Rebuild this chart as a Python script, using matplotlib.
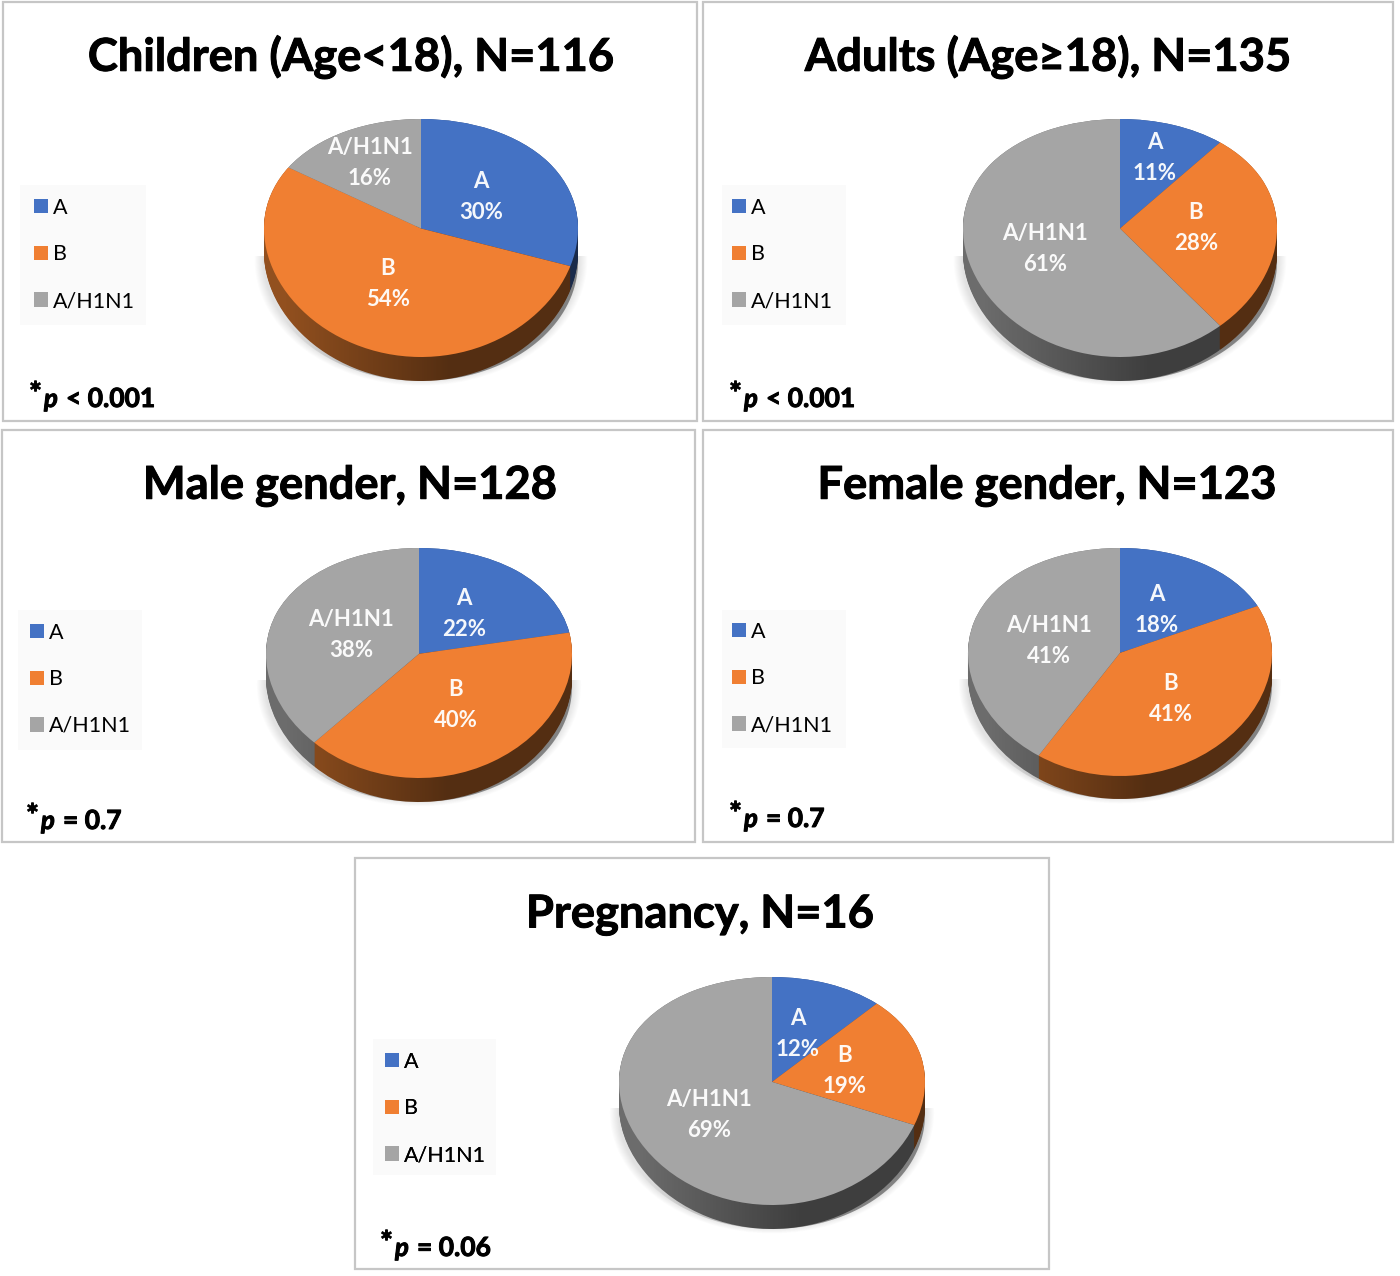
import numpy as np
import matplotlib
matplotlib.use("Agg")
import matplotlib.pyplot as plt
import matplotlib.patheffects as pe
from matplotlib.patches import Rectangle, Ellipse
from matplotlib.path import Path
from matplotlib.transforms import Transform, Affine2D

WIDTH = 1400
HEIGHT = 1276

# chart values
titles = ["Children (Age<18), N=116", "Adults (Age\u226518), N=135", "Male gender, N=128",
          "Female gender, N=123", "Pregnancy, N=16"]
virus_types = ["A", "B", "A/H1N1"]
type_a = [30, 11, 22, 18, 12]
type_b = [54, 28, 40, 41, 19]
type_h1n1 = [16, 61, 38, 41, 69]
p_values = ["< 0.001", "< 0.001", "= 0.7", "= 0.7", "= 0.06"]

# layout, all in pixels of the reference
colors = ["#4472C4", "#F07F32", "#A5A5A5"]
wall_colors = ["#2c4a80", "#92501f", "#6c6c6c"]
frames = [(3, 2, 697, 421), (703, 2, 1393, 421), (2, 430, 695, 842),
          (703, 430, 1393, 842), (355, 858, 1049, 1269)]
title_pos = [(351, 57), (1048, 57), (350, 486), (1047, 486), (700, 915)]
pie_geom = [(421, 238, 157, 119, 24), (1120, 238, 157, 119, 24), (419, 663, 153, 115, 24),
            (1120, 662, 152, 114, 23), (772, 1091, 153, 114, 24)]
legend_box = [(20, 185, 146, 325), (722, 185, 846, 325), (18, 610, 142, 750),
              (722, 610, 846, 748), (373, 1039, 496, 1175)]
legend_anchor = [(25, 189), (723, 189), (21, 614), (723, 613), (376, 1043)]
p_pos = [(29, 399), (729, 399), (26, 821), (729, 819), (380, 1248)]
label_pos = [
    [(481, 197), (388, 284), (370, 163)],
    [(1155, 158), (1196, 228), (1045, 249)],
    [(464, 614), (456, 705), (351, 635)],
    [(1157, 610), (1171, 699), (1049, 641)],
    [(798, 1034), (845, 1071), (709, 1115)],
]

plt.rcParams["font.family"] = ["Lato", "DejaVu Sans"]


class RaiseMiddle(Transform):
    # perspective of the 3d pie: apex and widest point sit above the middle of the rim
    input_dims = 2
    output_dims = 2
    is_separable = False
    has_inverse = False

    def __init__(self, k):
        super().__init__()
        self.k = k

    def transform_non_affine(self, values):
        xy = np.array(values, dtype=float)
        xy[:, 1] = xy[:, 1] + self.k * (1 - xy[:, 1] ** 2)
        return xy


def overlay(fig, zorder):
    ax = fig.add_axes([0, 0, 1, 1], zorder=zorder)
    ax.set_xlim(0, WIDTH)
    ax.set_ylim(HEIGHT, 0)
    ax.axis("off")
    return ax


def draw_pie(fig, values, geom):
    cx, cy, rx, ry, depth = geom
    margin = 12
    left = (cx - rx - margin) / WIDTH
    bottom = 1 - (cy + ry + depth + margin) / HEIGHT
    ax = fig.add_axes([left, bottom, (2 * rx + 2 * margin) / WIDTH, (2 * ry + depth + 2 * margin) / HEIGHT],
                      zorder=2)
    d = depth / ry
    warp = RaiseMiddle(0.08)

    # soft shadow, only the lower part shows
    clip = Rectangle((-2, -3), 4, 3 - 0.15, transform=ax.transData)
    for k in range(10):
        grow = 1 + 0.006 * (10 - k)
        shadow = Ellipse((0, -d * 0.9), 2 * grow, 2 * grow, color="black", alpha=0.011, lw=0, zorder=0)
        ax.add_patch(shadow)
        shadow.set_clip_path(clip)

    # side wall, a stack of dark pies
    for off in np.linspace(d, 0, depth + 1):
        layer, _ = ax.pie(values, colors=wall_colors, startangle=90, counterclock=False,
                          wedgeprops={"linewidth": 0, "zorder": 1})
        for w in layer:
            w.set_transform(warp + Affine2D().translate(0, -off) + ax.transData)

    # wall gets darker to the right
    grad = np.zeros((1, 256, 4))
    grad[0, :, 3] = np.clip(np.linspace(-0.05, 0.75, 256), 0, 0.42)
    im = ax.imshow(grad, extent=(-1, 1, -1 - d, 0.2), aspect="auto", zorder=2)
    t = np.linspace(np.pi, 2 * np.pi, 80)
    outline = np.column_stack([np.cos(t), np.sin(t) - d])
    outline = np.vstack([[[-1, 0.1]], outline, [[1, 0.1]], [[-1, 0.1]]])
    im.set_clip_path(Path(outline), transform=ax.transData)

    wedges, _ = ax.pie(values, colors=colors, startangle=90, counterclock=False,
                       wedgeprops={"linewidth": 0, "zorder": 3})
    for w in wedges:
        w.set_transform(warp + ax.transData)
    ax.set_aspect("auto")
    ax.set_xlim(-(rx + margin) / rx, (rx + margin) / rx)
    ax.set_ylim(-(ry + depth + margin) / ry, (ry + margin) / ry)
    return wedges


def main():
    fig = plt.figure(figsize=(WIDTH / 100, HEIGHT / 100), dpi=100, facecolor="white")
    back = overlay(fig, 0)
    top = overlay(fig, 5)
    thick = [pe.withStroke(linewidth=0.7, foreground="black")]

    for i, title in enumerate(titles):
        x0, y0, x1, y1 = frames[i]
        back.add_patch(Rectangle((x0, y0), x1 - x0, y1 - y0, fc="white", ec="#c6c6c6", lw=1.6))
        top.text(title_pos[i][0], title_pos[i][1], title, ha="center", va="center",
                 fontsize=32.6, fontweight="bold", color="black", path_effects=thick)

        values = [type_a[i], type_b[i], type_h1n1[i]]
        wedges = draw_pie(fig, values, pie_geom[i])

        for j, name in enumerate(virus_types):
            x, y = label_pos[i][j]
            top.text(x, y, f"{name}\n{values[j]}%", ha="center", va="center", color="white",
                     fontsize=16, fontweight="bold", linespacing=1.62, alpha=0.95)

        bx0, by0, bx1, by1 = legend_box[i]
        back.add_patch(Rectangle((bx0, by0), bx1 - bx0, by1 - by0, fc="#fafafa", ec="none", zorder=3))
        leg = top.legend(wedges, virus_types, loc="upper left", bbox_to_anchor=legend_anchor[i],
                         bbox_transform=top.transData, frameon=False, fontsize=15.5, borderaxespad=0,
                         borderpad=0.4, handlelength=0.65, handleheight=0.65, handletextpad=0.27,
                         labelspacing=1.24)
        top.add_artist(leg)

        # star, italic p and the rest are separate because of the mixed styles
        px, py = p_pos[i]
        top.text(px, py - 4, "*", ha="left", va="center", fontsize=22, fontweight="bold", path_effects=thick)
        top.text(px + 15, py, "p", ha="left", va="center", fontsize=18.5, fontweight="bold",
                 fontstyle="italic", path_effects=thick)
        top.text(px + 37, py, p_values[i], ha="left", va="center", fontsize=19, fontweight="bold",
                 path_effects=thick)

    fig.savefig("out.png", dpi=100)


if __name__ == "__main__":
    main()
